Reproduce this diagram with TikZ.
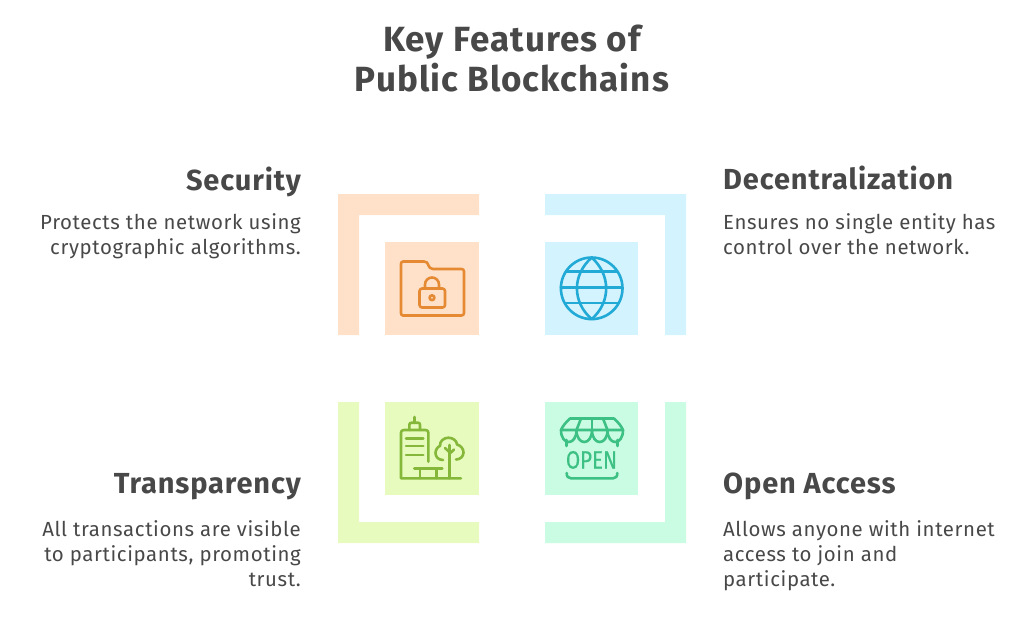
\documentclass[tikz,border=0pt]{standalone}
\usepackage{fontspec}
\setmainfont[LetterSpace=3]{Fira Sans}
\newfontfamily\openfont[FakeBold=0.4]{Fira Sans}
\definecolor{ink}{HTML}{484848}
\definecolor{orfill}{HTML}{FFE1CA}
\definecolor{orline}{HTML}{E58A33}
\definecolor{blfill}{HTML}{D3F4FF}
\definecolor{blline}{HTML}{22AAD6}
\definecolor{lifill}{HTML}{E7FBBE}
\definecolor{liline}{HTML}{85B83A}
\definecolor{mifill}{HTML}{C9FCE3}
\definecolor{miline}{HTML}{3DC083}
\tikzset{
  titletext/.style={inner sep=0,align=center,text=ink,font=\fontsize{35}{40}\selectfont\bfseries},
  headtext/.style={inner sep=0,text=ink,font=\fontsize{29}{32}\selectfont\bfseries},
  bodytext/.style={inner sep=0,text=ink,font=\fontsize{20.4}{25}\selectfont},
  iconline/.style={line width=2.6pt,line cap=round,line join=round},
}
\begin{document}
\begin{tikzpicture}[x=1pt,y=-1pt]
\useasboundingbox (0,0) rectangle (1024,625);
% panels
\fill[orfill] (338,194) -- (479,194) -- (479,215) -- (359,215) -- (359,335) -- (338,335) -- cycle;
\fill[orfill] (385,242) rectangle (479,335);
\fill[blfill] (545,194) -- (686,194) -- (686,335) -- (665,335) -- (665,215) -- (545,215) -- cycle;
\fill[blfill] (545,242) rectangle (638,335);
\fill[lifill] (338,402) -- (359,402) -- (359,522) -- (479,522) -- (479,543) -- (338,543) -- cycle;
\fill[lifill] (385,402) rectangle (479,495);
\fill[mifill] (665,402) -- (686,402) -- (686,543) -- (545,543) -- (545,522) -- (665,522) -- cycle;
\fill[mifill] (545,402) rectangle (638,495);
% folder + lock
\begin{scope}[iconline,draw=orline]
\draw (403,261.5) -- (424,261.5) .. controls (427,261.5) and (427.5,263) .. (428,264.5) .. controls (429,267) and (430,269) .. (433,269) -- (461.5,269) .. controls (463,269) and (464,270) .. (464,271.5) -- (464,313) .. controls (464,314.5) and (463,315.5) .. (461.5,315.5) -- (403,315.5) .. controls (401.5,315.5) and (401,314.5) .. (401,313) -- (401,264) .. controls (401,262.5) and (401.5,261.5) .. (403,261.5) -- cycle;
\draw[rounded corners=2.5pt] (419.5,288.5) rectangle (445,307.5);
\draw (425,288.5) -- (425,284.5) arc[start angle=180,end angle=360,radius=7] -- (439,288.5);
\draw (432,297.7) circle[radius=2.4];
\end{scope}
% globe
\begin{scope}[iconline,draw=blline]
\draw (591.7,288.3) circle[radius=30.8];
\draw (591.7,257.5) .. controls (572,275) and (572,302) .. (591.7,319.1) .. controls (611,302) and (611,275) .. (591.7,257.5) -- cycle;
\draw (566,271.5) -- (617.5,271.5);
\draw (561,287.5) -- (622.5,287.5);
\draw (566,303) -- (617.5,303);
\end{scope}
% building + tree
\begin{scope}[iconline,draw=liline]
\draw (428.3,461.7) -- (428.3,432.5) .. controls (428.3,431) and (427,430) .. (425.5,430) -- (404,430) .. controls (402,430) and (401,431) .. (401,432.5) -- (401,478.3) -- (461,478.3);
\draw (409.3,430) -- (409.3,425) .. controls (409.3,423.5) and (410,422.7) .. (411.5,422.7) -- (418,422.7) .. controls (419.5,422.7) and (420,423.5) .. (420,425) -- (420,430);
\draw (414.7,417) -- (414.7,422.7);
\draw (406,438.3) -- (423.3,438.3);
\draw (406,446) -- (423.3,446);
\draw (406,455) -- (423.3,455);
\draw (414.3,468.3) -- (442.3,468.3);
\draw (420,468.3) -- (420,478.3);
\draw (436.7,468.3) -- (436.7,478.3);
\draw (449.3,478.3) -- (449.3,445);
\draw (449.3,452) -- (445,448);
\draw (449.3,454) -- (454,449.5);
\draw (443,460) .. controls (438,460) and (435.5,456.5) .. (435.5,453) .. controls (435.5,449.5) and (438,446.5) .. (440,446) .. controls (439.5,441) and (444,437.7) .. (448.5,437.7) .. controls (453,437.7) and (457,441) .. (457,444.5) .. controls (461,445.5) and (463.5,449) .. (463.5,452.5) .. controls (463.5,456.5) and (460,459.5) .. (456,459.5);
\end{scope}
% open sign
\begin{scope}[iconline,draw=miline]
\draw (570,418.5) -- (614,418.5) .. controls (618,422) and (622,427) .. (623,430) -- (561,430) .. controls (562,427) and (566,422) .. (570,418.5) -- cycle;
\draw (561,430) .. controls (561,446) and (576.5,446) .. (576.5,430);
\draw (576.5,430) .. controls (576.5,446) and (592,446) .. (592,430);
\draw (592,430) .. controls (592,446) and (607.5,446) .. (607.5,430);
\draw (607.5,430) .. controls (607.5,446) and (623,446) .. (623,430);
\draw (566.7,440) -- (566.7,446);
\draw (617.3,440) -- (617.3,446);
\draw (581,418.5) -- (576.5,430);
\draw (592,418.5) -- (592,430);
\draw (603,418.5) -- (607.5,430);
\draw (566.7,473) .. controls (566.7,476.5) and (568,478.3) .. (571,478.3) -- (613,478.3) .. controls (616,478.3) and (617.3,476.5) .. (617.3,473);
\end{scope}
\node[inner sep=0,text=miline,font=\openfont\fontsize{25}{25}\selectfont,xscale=.82,transform shape,anchor=base] (opensign) at (591.5,468.5) {OPEN};
% text
\node[titletext,anchor=north] (title) at (512,25) {Key Features of\\Public Blockchains};
\node[headtext,anchor=base east] (sechead) at (301,190) {Security};
\node[bodytext,align=right,anchor=north east] (secbody) at (301,213) {Protects the network using\\cryptographic algorithms.};
\node[headtext,anchor=base west] (dechead) at (723,189) {Decentralization};
\node[bodytext,align=left,anchor=north west] (decbody) at (723,213) {Ensures no single entity has\\control over the network.};
\node[headtext,anchor=base east] (trahead) at (301,493) {Transparency};
\node[bodytext,align=right,anchor=north east] (trabody) at (301,520) {All transactions are visible\\to participants, promoting\\trust.};
\node[headtext,anchor=base west] (opehead) at (723,493) {Open Access};
\node[bodytext,align=left,anchor=north west] (opebody) at (723,520) {Allows anyone with internet\\access to join and\\participate.};
\end{tikzpicture}
\end{document}
